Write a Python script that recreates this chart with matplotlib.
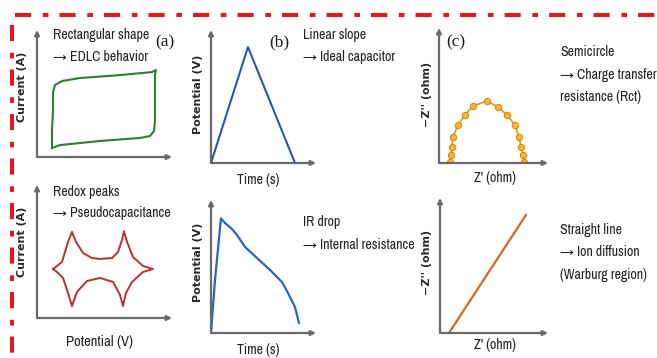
import matplotlib
matplotlib.use("Agg")
import matplotlib.pyplot as plt
from matplotlib.lines import Line2D

W, H = 657, 358
FONT = ['Archivo Narrow', 'Roboto Condensed', 'DejaVu Sans']
plt.rcParams['font.family'] = FONT

# --- data (arbitrary units 0..100 on each sketch axis) ---
# (a) top: rectangular CV loop (EDLC)
cv_rect_x = [11.1, 17.0, 46.7, 76.3, 83.7, 86.7, 87.4, 87.4, 87.4, 88.1, 85.2, 61.5, 31.9, 18.5, 13.3, 11.9, 11.9, 11.1, 11.1]
cv_rect_y = [7.1, 9.4, 12.6, 15.0, 16.5, 20.5, 29.1, 52.8, 64.5, 68.5, 66.9, 64.5, 62.2, 59.8, 56.7, 51.2, 37.0, 21.2, 7.1]
# (a) bottom: CV with redox peaks
cv_redox_x = [11.9, 18.5, 23.0, 25.9, 28.9, 34.1, 40.7, 46.7, 55.6, 60.0, 63.0, 64.4, 66.7, 71.1, 78.5, 85.9,
              78.5, 70.4, 65.9, 63.7, 61.5, 56.3, 46.7, 37.0, 29.6, 25.9, 23.0, 19.3, 14.8, 11.9]
cv_redox_y = [36.8, 42.1, 57.2, 64.7, 57.2, 48.9, 45.1, 44.4, 45.1, 49.6, 58.7, 65.4, 57.2, 45.9, 39.1, 36.8,
              34.6, 27.1, 18.8, 9.0, 17.3, 27.1, 30.1, 27.8, 19.6, 9.0, 18.8, 30.1, 34.6, 36.8]
# (b) top: ideal GCD triangle
gcd_ideal_t = [0, 35.2, 80.0]
gcd_ideal_v = [0, 87.2, 0]
# (b) bottom: GCD with IR drop
gcd_ir_t = [0, 3.8, 9.5, 13.3, 20.0, 24.8, 32.4, 43.8, 56.2, 67.6, 73.3, 80.0, 83.8]
gcd_ir_v = [0, 39.8, 86.2, 82.7, 78.2, 73.7, 64.7, 56.4, 47.4, 38.3, 30.1, 19.5, 7.5]
# (c) top: Nyquist semicircle
nyq_re = [10.1, 11.0, 11.9, 12.8, 17.4, 23.8, 31.2, 44.0, 54.1, 62.4, 69.7, 73.4, 75.2, 77.0, 77.9]
nyq_im = [0.7, 5.9, 11.9, 19.3, 28.2, 35.6, 42.2, 45.9, 41.5, 35.6, 28.2, 19.3, 11.9, 5.9, 0.7]
# (c) bottom: Warburg line
warb_re = [8.3, 79.6]
warb_im = [0.0, 87.4]

fig = plt.figure(figsize=(W / 100, H / 100), dpi=100)


def fx(px):
    return px / W


def fy(py):
    return 1 - py / H


def sketch_axes(x0, ytop, x1, ybot):
    ax = fig.add_axes([fx(x0), fy(ybot), fx(x1 - x0), (ybot - ytop) / H])
    ax.set_xlim(0, 100)
    ax.set_ylim(0, 100)
    ax.axis('off')
    ap = dict(arrowstyle='-|>', color='#6a6a6a', lw=1.6, mutation_scale=7, shrinkA=0, shrinkB=0)
    ax.annotate('', xy=(0, 1), xytext=(0, 0), xycoords='axes fraction', arrowprops=ap)
    ax.annotate('', xy=(1, 0), xytext=(0, 0), xycoords='axes fraction', arrowprops=ap)
    return ax


def txt(px, py, s, **kw):
    kw.setdefault('fontsize', 10)
    kw.setdefault('color', '#222222')
    kw.setdefault('va', 'center')
    fig.text(fx(px), fy(py), s, **kw)


def ylab(px, py, s):
    txt(px, py, s, rotation=90, ha='center', family='DejaVu Sans',
        fontweight='bold', fontsize=8, color='#2a2a2a')


# panels
ax1 = sketch_axes(37, 30, 172, 157)
ax1.plot(cv_rect_x, cv_rect_y, color='#2e7d32', lw=1.5)

ax2 = sketch_axes(37, 185, 172, 318)
ax2.plot(cv_redox_x, cv_redox_y, color='#b5332e', lw=1.4)

ax3 = sketch_axes(211, 30, 316, 163)
ax3.plot(gcd_ideal_t, gcd_ideal_v, color='#2a55b0', lw=1.5)

ax4 = sketch_axes(211, 200, 316, 333)
ax4.plot(gcd_ir_t, gcd_ir_v, color='#2a63c4', lw=1.6)

ax5 = sketch_axes(439, 28, 548, 163)
ax5.plot(nyq_re, nyq_im, color='#e8951c', lw=1.2, marker='o', ms=4.5,
         mfc='#f6b73c', mec='#e08a00', mew=0.8)

ax6 = sketch_axes(440, 198, 548, 333)
ax6.plot(warb_re, warb_im, color='#d2691e', lw=1.6)

# axis labels
ylab(22, 87, 'Current (A)')
ylab(22, 242, 'Current (A)')
ylab(198, 94, 'Potential (V)')
ylab(198, 262, 'Potential (V)')
ylab(427, 94, '\u2212Z\'\' (ohm)')
ylab(427, 262, '\u2212Z\'\' (ohm)')
txt(100, 342, 'Potential (V)', ha='center', fontsize=10.5)
txt(258, 180, 'Time (s)', ha='center', fontsize=10)
txt(258, 350, 'Time (s)', ha='center', fontsize=10)
txt(495, 178, "Z' (ohm)", ha='center', fontsize=10)
txt(495, 345, "Z' (ohm)", ha='center', fontsize=10)

# panel letters
txt(165, 42, '(a)', ha='center', family='Liberation Serif', fontsize=12.5, color='#1a1a1a')
txt(279, 42, '(b)', ha='center', family='Liberation Serif', fontsize=12.5, color='#1a1a1a')
txt(456, 42, '(c)', ha='center', family='Liberation Serif', fontsize=12.5, color='#1a1a1a')

# annotations
txt(53, 35, 'Rectangular shape')
txt(53, 57, '\u2192 EDLC behavior')
txt(53, 192, 'Redox peaks')
txt(53, 213, '\u2192 Pseudocapacitance')
txt(303, 35, 'Linear slope')
txt(303, 57, '\u2192 Ideal capacitor')
txt(303, 222, 'IR drop')
txt(303, 245, '\u2192 Internal resistance')
txt(560, 52, 'Semicircle')
txt(560, 75, '\u2192 Charge transfer')
txt(560, 97, 'resistance (Rct)')
txt(560, 230, 'Straight line')
txt(560, 252, '\u2192 Ion diffusion')
txt(560, 275, '(Warburg region)')

# red dash-dot frame (top and left)
dashes = (0, (4.0, 2.9, 1.4, 2.75))
fig.add_artist(Line2D([fx(15), fx(657)], [fy(15), fy(15)], color='#e8161c', lw=2.9, linestyle=dashes))
fig.add_artist(Line2D([fx(12), fx(12)], [fy(25), fy(358)], color='#e8161c', lw=2.9, linestyle=dashes))

fig.savefig('out.png', dpi=100)
